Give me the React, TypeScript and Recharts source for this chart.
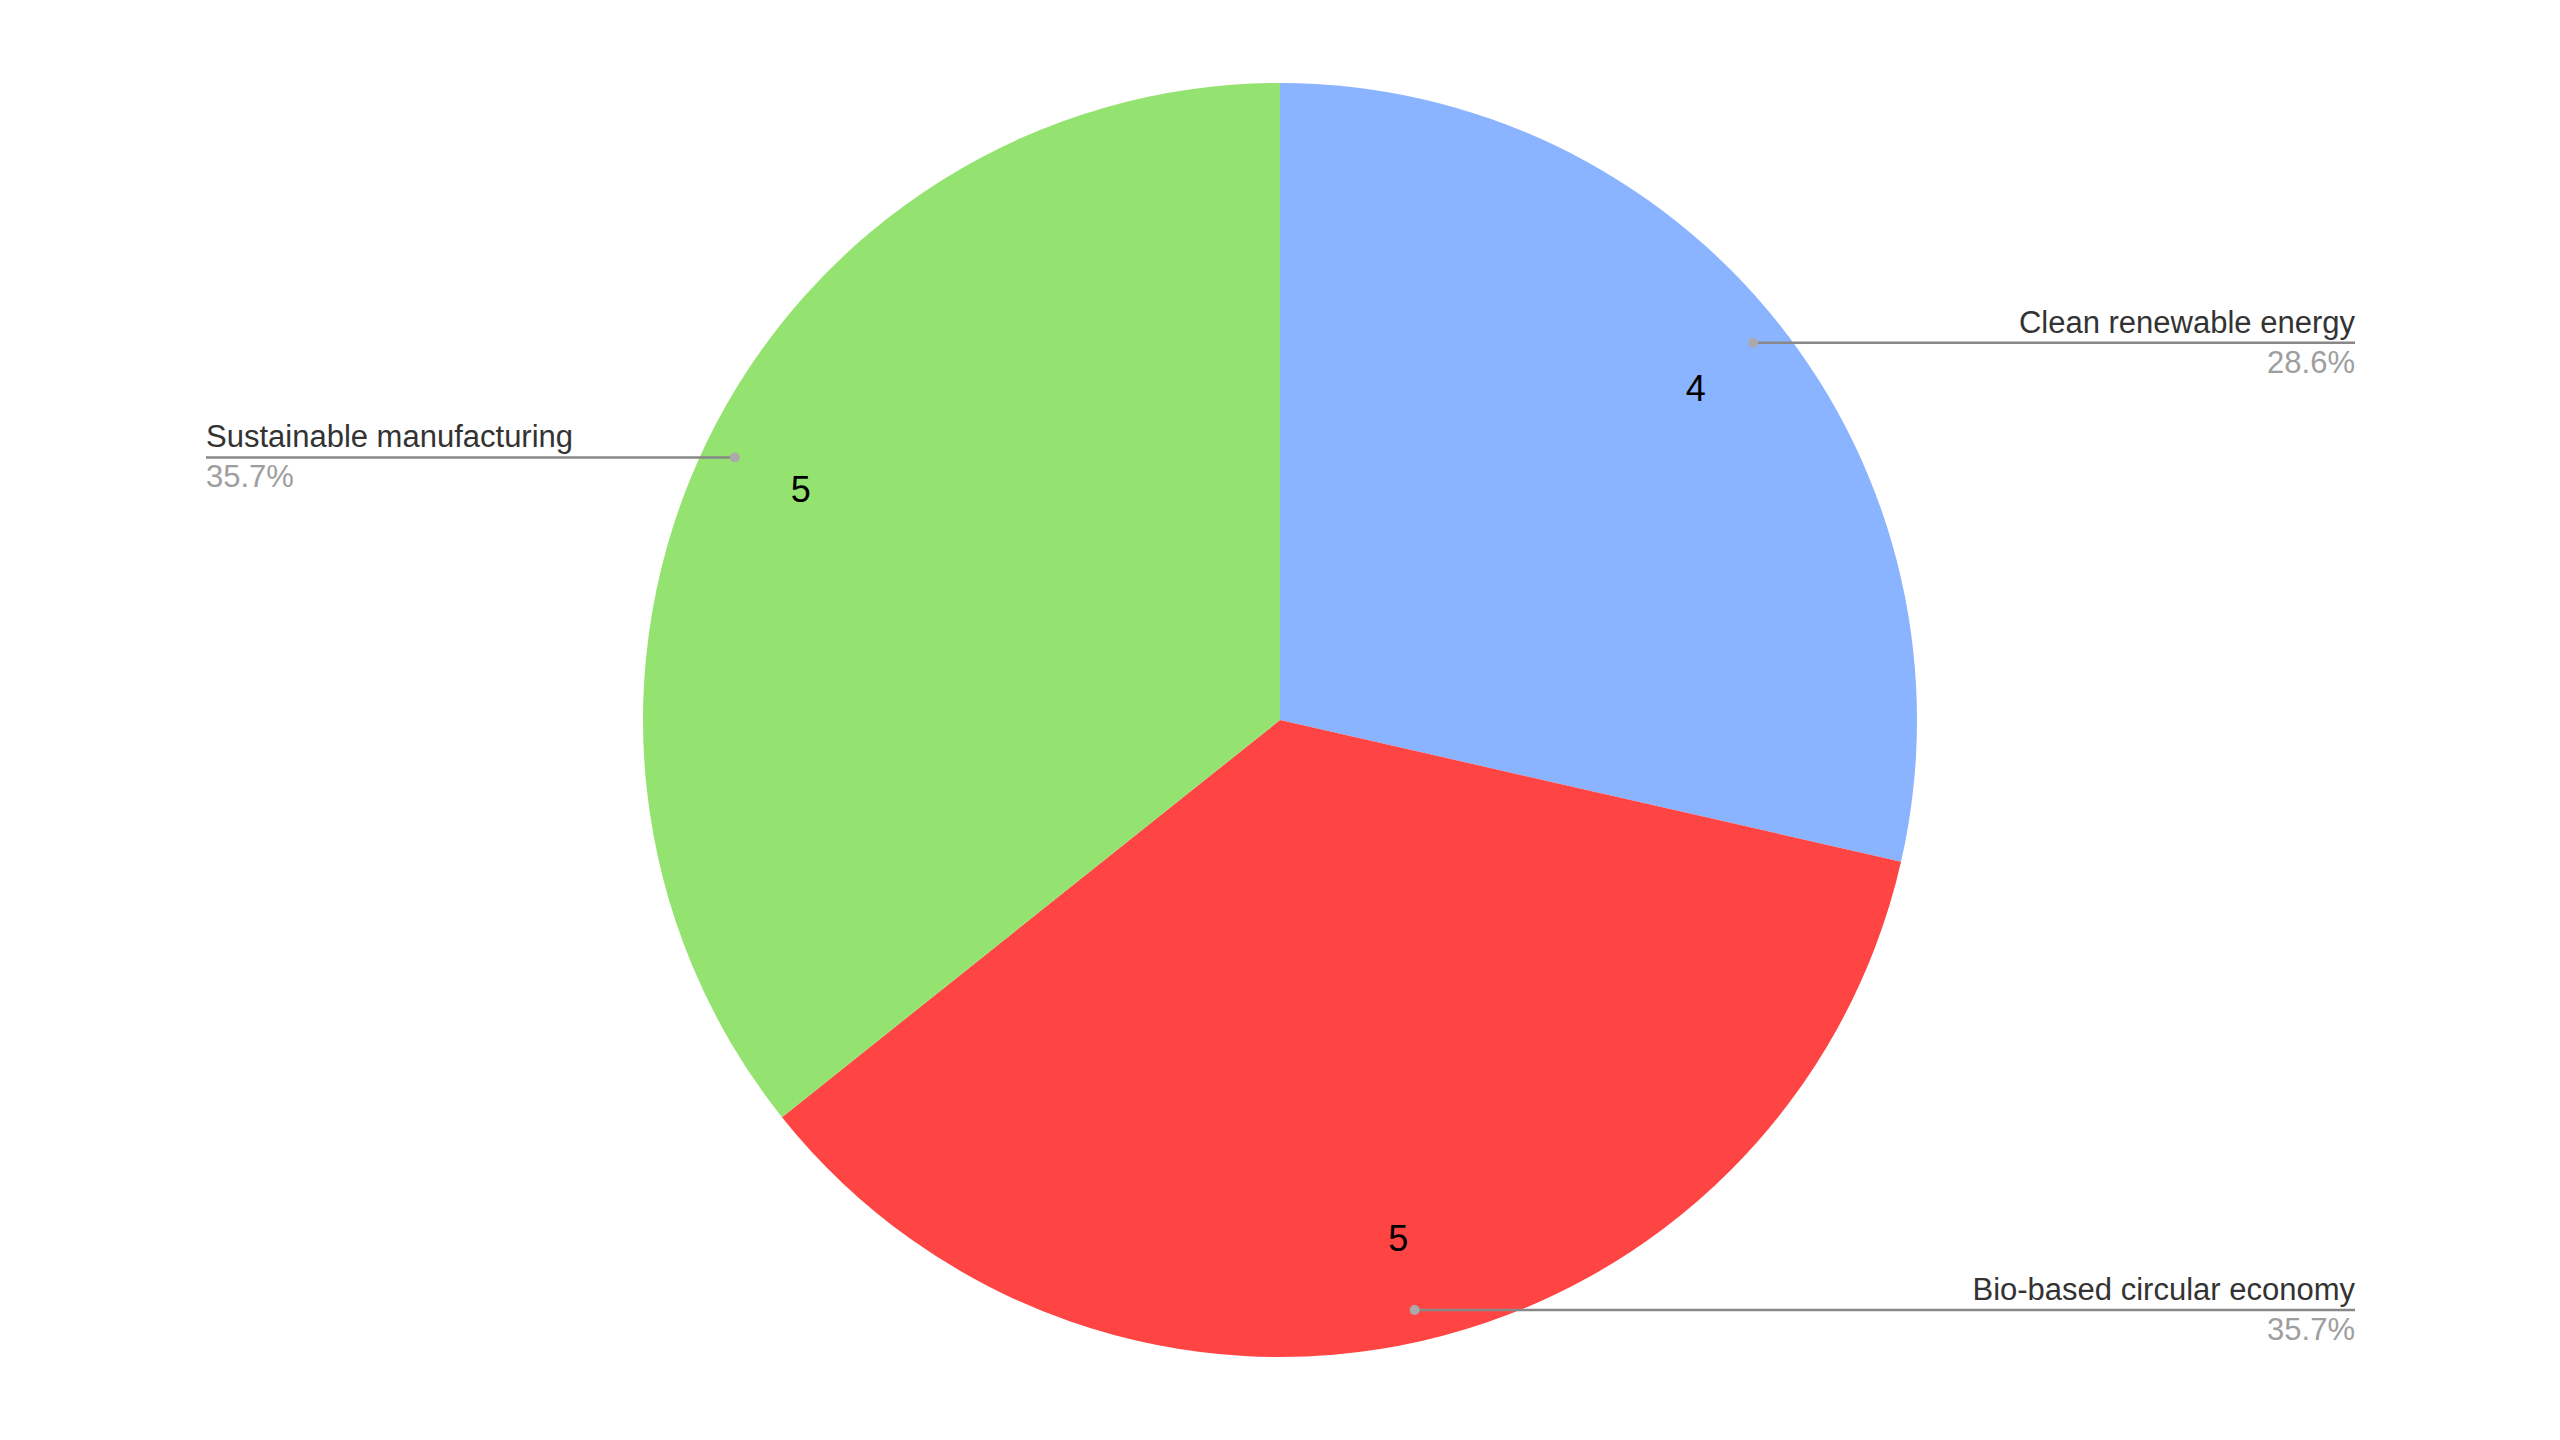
import { PieChart, Pie, Cell } from 'recharts';

const sectors = ['Clean renewable energy', 'Bio-based circular economy', 'Sustainable manufacturing'];
const counts = [4, 5, 5];
const colors = ['#8ab4ff', '#ff4444', '#94e370'];

const data = sectors.map((name, i) => ({ name, value: counts[i] }));

const RAD = Math.PI / 180;
const FONT = "Arial, 'Liberation Sans', sans-serif";

function renderLabel(props: any) {
  const { cx, cy, midAngle, outerRadius, percent, name, value } = props;
  const cos = Math.cos(-midAngle * RAD);
  const sin = Math.sin(-midAngle * RAD);
  const vr = outerRadius * 0.835;
  const dr = outerRadius * 0.95;
  const vx = cx + vr * cos;
  const vy = cy + vr * sin;
  const dx = cx + dr * cos;
  const dy = cy + dr * sin;
  const right = cos >= 0;
  const endX = right ? 2355 : 206;
  const anchor = right ? 'end' : 'start';
  return (
    <g>
      <text x={vx} y={vy} textAnchor="middle" dominantBaseline="central" fontSize={36} fill="#000" fontFamily={FONT}>
        {value}
      </text>
      <line x1={dx} y1={dy} x2={endX} y2={dy} stroke="#888" strokeWidth={2.5} />
      <circle cx={dx} cy={dy} r={5} fill="#aaa" />
      <text x={endX} y={dy - 10} textAnchor={anchor} fontSize={31} fill="#333" fontFamily={FONT}>
        {name}
      </text>
      <text x={endX} y={dy + 30} textAnchor={anchor} fontSize={31} fill="#9e9e9e" fontFamily={FONT}>
        {(percent * 100).toFixed(1)}%
      </text>
    </g>
  );
}

export default function App() {
  return (
    <div style={{ position: 'absolute', left: 0, top: 0, width: 2560, height: 1440, background: '#fff' }}>
      <PieChart width={2560} height={1440} margin={{ top: 0, right: 0, bottom: 0, left: 0 }}>
        <Pie
          data={data}
          dataKey="value"
          nameKey="name"
          cx={1280}
          cy={720}
          outerRadius={637}
          startAngle={90}
          endAngle={-270}
          stroke="none"
          label={renderLabel}
          labelLine={false}
          isAnimationActive={false}
        >
          {data.map((d, i) => (
            <Cell key={d.name} fill={colors[i]} />
          ))}
        </Pie>
      </PieChart>
    </div>
  );
}
